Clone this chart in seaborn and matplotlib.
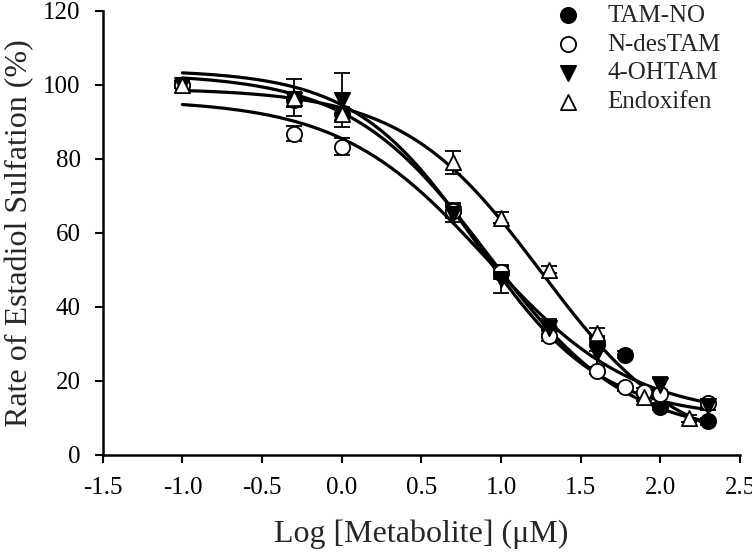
"""
Estradiol sulfation inhibition by tamoxifen metabolites:
points with error bars plus 4-parameter logistic fit curves.
"""

import numpy as np
import pandas as pd
import matplotlib
matplotlib.use("Agg")
import matplotlib.pyplot as plt
import seaborn as sns

SERIES = ["TAM-NO", "N-desTAM", "4-OHTAM", "Endoxifen"]

tamno_x = [-1.0, -0.3, 0.0, 0.7, 1.0, 1.3, 1.6, 1.78, 2.0, 2.3]
tamno_y = [100, 96, 92, 66, 49, 34, 30, 27, 13, 9]
tamno_err = [1, 2, 2, 2, 1.5, 1.5, 2, 1, 1, 1]

ndes_x = [-1.0, -0.3, 0.0, 0.7, 1.0, 1.3, 1.6, 1.78, 1.9, 2.0, 2.3]
ndes_y = [100, 86.8, 83.2, 66, 49.5, 32.2, 22.7, 18.2, 17, 16.4, 14]
ndes_err = [1, 2, 2.3, 1.5, 1.5, 1.5, 1, 1, 1, 1, 1]

ohtam_x = [-1.0, -0.3, 0.0, 0.7, 1.0, 1.3, 1.6, 2.0, 2.3]
ohtam_y = [100, 96, 95.9, 65, 47.5, 34.3, 27.4, 18.8, 13.2]
ohtam_err = [1, 2, 7.3, 2, 3.7, 2.4, 4.1, 2.2, 1]

endox_x = [-1.0, -0.3, 0.0, 0.7, 1.0, 1.3, 1.6, 1.9, 2.18]
endox_y = [100, 96.5, 92, 79, 64, 50, 32.8, 15.6, 9.8]
endox_err = [1, 5, 1.5, 3, 1.5, 1, 1.5, 1, 1]

# fitted curve parameters: bottom, top, logIC50, hill slope
fit_bottom = [5, 10, 10, 0]
fit_top = [103, 96, 104, 99]
fit_logic50 = [0.92, 0.91, 0.85, 1.25]
fit_hill = [1.0, 0.94, 1.12, 1.0]
fit_xmax = [2.3, 2.3, 2.3, 2.3]

MARKERS = {"TAM-NO": "o", "N-desTAM": "o", "4-OHTAM": "v", "Endoxifen": "^"}
FACES = {"TAM-NO": "black", "N-desTAM": "white", "4-OHTAM": "black", "Endoxifen": "white"}

points = pd.concat([
    pd.DataFrame({"x": tamno_x, "y": tamno_y, "err": tamno_err, "metabolite": "TAM-NO"}),
    pd.DataFrame({"x": ndes_x, "y": ndes_y, "err": ndes_err, "metabolite": "N-desTAM"}),
    pd.DataFrame({"x": ohtam_x, "y": ohtam_y, "err": ohtam_err, "metabolite": "4-OHTAM"}),
    pd.DataFrame({"x": endox_x, "y": endox_y, "err": endox_err, "metabolite": "Endoxifen"}),
], ignore_index=True)

sns.set_style("ticks")
plt.rcParams["font.family"] = ["Liberation Serif", "DejaVu Serif"]

fig = plt.figure(figsize=(7.52, 5.57), dpi=100)
ax = fig.add_axes([0.1366, 0.1837, 0.8475, 0.797])

# fit curves
for i, name in enumerate(SERIES):
    sub = points[points["metabolite"] == name]
    xs = np.linspace(sub["x"].min(), fit_xmax[i], 200)
    ys = fit_bottom[i] + (fit_top[i] - fit_bottom[i]) / (1 + 10 ** ((xs - fit_logic50[i]) * fit_hill[i]))
    sns.lineplot(x=xs, y=ys, color="black", linewidth=2.3, ax=ax, zorder=2)

# error bars and markers
for name in SERIES:
    sub = points[points["metabolite"] == name]
    ax.errorbar(sub["x"], sub["y"], yerr=sub["err"], fmt="none", ecolor="black",
                elinewidth=1.3, capsize=6, capthick=1.3, zorder=3)
    sns.scatterplot(data=sub, x="x", y="y", marker=MARKERS[name], s=120,
                    color=FACES[name], edgecolor="black", linewidth=1.3,
                    ax=ax, zorder=4, label=name)

ax.set_xlim(-1.5, 2.5)
ax.set_ylim(0, 120)
ax.set_xticks(np.arange(-1.5, 2.51, 0.5))
ax.set_xticklabels([f"{v:.1f}" for v in np.arange(-1.5, 2.51, 0.5)])
ax.set_yticks(range(0, 121, 20))
ax.tick_params(axis="both", direction="out", length=6, width=1.5, labelsize=18,
               color="black", labelcolor="black")
ax.tick_params(axis="x", pad=10)
ax.tick_params(axis="y", pad=10)
for side in ["left", "bottom"]:
    ax.spines[side].set_linewidth(1.8)
    ax.spines[side].set_color("black")
sns.despine(ax=ax)

ax.set_xlabel("Log [Metabolite] (μM)", fontsize=23, labelpad=15)
ax.set_ylabel("Rate of Estadiol Sulfation (%)", fontsize=23, labelpad=6)

leg = ax.legend(loc="upper left", bbox_to_anchor=(0.655, 1.065), frameon=False,
                fontsize=18, handletextpad=0.6, labelspacing=0.25, markerscale=1.0)

fig.savefig("out.png", dpi=100)
